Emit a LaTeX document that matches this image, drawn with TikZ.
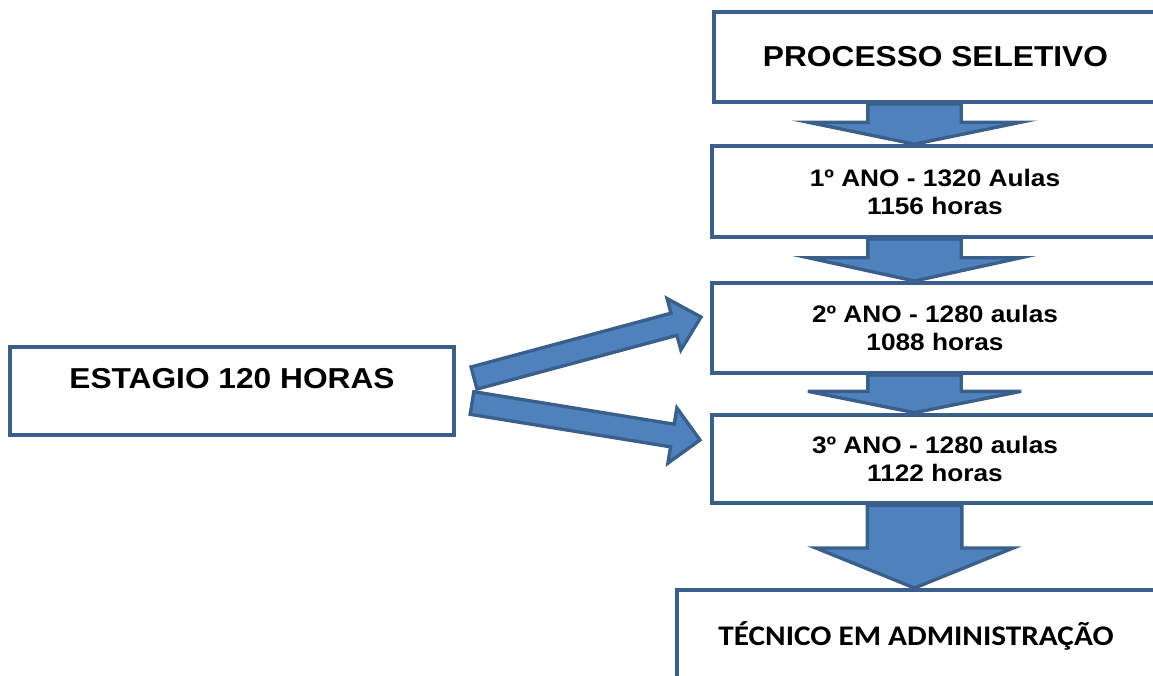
\documentclass[tikz,border=0pt]{standalone}
\usepackage{fontspec}
\setmainfont{Liberation Sans}[FakeStretch=1.1]
\newfontfamily\calibrifont{Carlito}[FakeStretch=1.1]
\usetikzlibrary{calc, positioning}

\definecolor{boxline}{HTML}{3B5F8C}
\definecolor{arrfill}{HTML}{4F81BD}
\definecolor{arrline}{HTML}{3A5F8B}

\pgfdeclarelayer{bg}
\pgfsetlayers{bg,main}

% block arrow: from, to, half shaft, half head, head length
\newcommand{\blockarr}[5]{%
  \coordinate (ba) at (#1);
  \coordinate (bb) at (#2);
  \coordinate (hb) at ($(bb)!#5!(ba)$);
  \draw[blk] ($(ba)!#3!90:(bb)$) -- ($(hb)!#3!-90:(ba)$) -- ($(hb)!#4!-90:(ba)$)
    -- (bb) -- ($(hb)!#4!90:(ba)$) -- ($(hb)!#3!90:(ba)$) -- ($(ba)!#3!-90:(bb)$) -- cycle;
}

\begin{document}
\begin{tikzpicture}[
  x=0.75pt, y=-0.75pt,
  box/.style={draw=boxline, line width=3pt, fill=white, align=center, inner sep=0pt},
  big/.style={font=\fontsize{21.6}{26}\selectfont\bfseries},
  year/.style={box, font=\fontsize{17.9}{21}\selectfont\bfseries, minimum width=334.5pt},
  blk/.style={draw=arrline, fill=arrfill, line width=2.5pt, line join=miter}
]
\useasboundingbox (0,0) rectangle (1153,675);

% course boxes
\node[box, big, minimum width=332.25pt, minimum height=67.5pt] (sel) at (935.5,57) {PROCESSO SELETIVO};
\node[year, minimum height=68pt] (ano1) at (935,191.5) {1º ANO - 1320 Aulas\\1156 horas};
\node[year, minimum height=67.5pt] (ano2) at (935,328) {2º ANO - 1280 aulas\\1088 horas};
\node[year, minimum height=66.5pt] (ano3) at (935,459) {3º ANO - 1280 aulas\\1122 horas};
\node[box, minimum width=358.5pt, minimum height=69pt, text height=13.5pt, text depth=0pt,
  font=\calibrifont\fontsize{21.3}{26}\selectfont\bfseries] (tec) at (916,636) {TÉCNICO EM ADMINISTRAÇÃO};

% internship
\node[box, big, minimum width=333pt, minimum height=66pt, text height=15.5pt, text depth=19.5pt] (est) at (232,391) {ESTAGIO 120 HORAS};

% arrows
\coordinate (axis) at (914.5,0);
\coordinate (up0) at ($(est.east)+(18,-13)$);
\coordinate (up1) at ($(ano2.west)+(-9,-11)$);
\coordinate (dn0) at ($(est.east)+(16,12)$);
\coordinate (dn1) at ($(ano3.west)+(-10,-19)$);
\begin{pgfonlayer}{bg}
\blockarr{sel.south -| axis}{ano1.north -| axis}{35pt}{80pt}{16.5pt}
\blockarr{ano1.south -| axis}{ano2.north -| axis}{35pt}{80pt}{17.5pt}
\blockarr{ano2.south -| axis}{ano3.north -| axis}{35pt}{80pt}{16pt}
\blockarr{ano3.south -| axis}{tec.north -| axis}{35.5pt}{74pt}{30pt}
\end{pgfonlayer}
\blockarr{up0}{up1}{8.6pt}{20pt}{21pt}
\blockarr{dn0}{dn1}{8.6pt}{21pt}{21pt}

\end{tikzpicture}
\end{document}
